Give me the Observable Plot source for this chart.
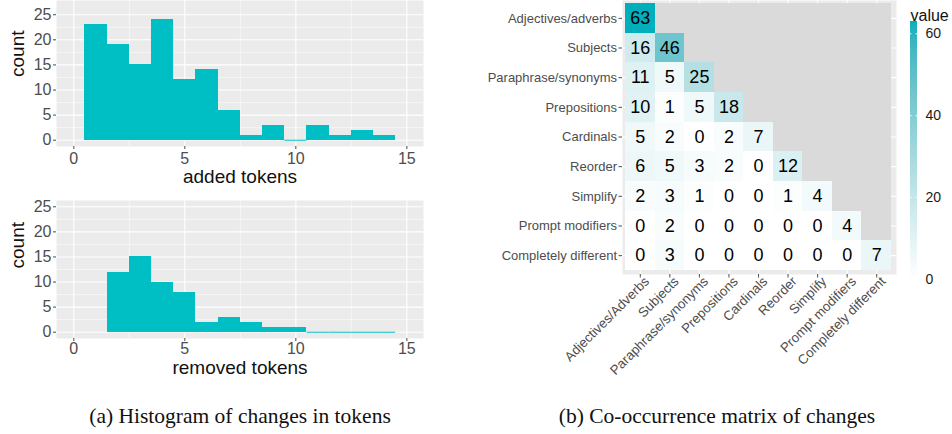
<!DOCTYPE html>
<html>
<head>
<meta charset="utf-8">
<script src="https://cdn.jsdelivr.net/npm/d3@7"></script>
<script src="https://cdn.jsdelivr.net/npm/@observablehq/plot@0.6"></script>
<style>
  body { margin: 0; background: #fff; }
  #root { position: relative; width: 952px; height: 434px; overflow: hidden; font-family: "Liberation Sans", Arial, sans-serif; }
  #root > svg { position: absolute; }
  .cap { position: absolute; font-family: "Liberation Serif", "DejaVu Serif", serif; font-size: 21.5px; color: #111; white-space: nowrap; transform: translateX(-50%); line-height: 1; }
</style>
</head>
<body>
<div id="root"></div>
<script>
// ---------- Data ----------
const addedBins = [1, 2, 3, 4, 5, 6, 7, 8, 9, 10, 11, 12, 13, 14];
const addedCounts = [23, 19, 15, 24, 12, 14, 6, 1, 3, 0, 3, 1, 2, 1];
const removedBins = [2, 3, 4, 5, 6, 7, 8, 9, 10, 11, 12, 13, 14];
const removedCounts = [12, 15, 10, 8, 2, 3, 2, 1, 1, 0, 0, 0, 0];
const histXTicks = [0, 5, 10, 15];
const histYTicks = [0, 5, 10, 15, 20, 25];

const rowLabels = ["Adjectives/adverbs", "Subjects", "Paraphrase/synonyms", "Prepositions", "Cardinals", "Reorder", "Simplify", "Prompt modifiers", "Completely different"];
const colLabels = ["Adjectives/Adverbs", "Subjects", "Paraphrase/synonyms", "Prepositions", "Cardinals", "Reorder", "Simplify", "Prompt modifiers", "Completely different"];
const matrixRows = [
  [63],
  [16, 46],
  [11, 5, 25],
  [10, 1, 5, 18],
  [5, 2, 0, 2, 7],
  [6, 5, 3, 2, 0, 12],
  [2, 3, 1, 0, 0, 1, 4],
  [0, 2, 0, 0, 0, 0, 0, 4],
  [0, 3, 0, 0, 0, 0, 0, 0, 7]
];
const legendTicks = [0, 20, 40, 60];
const captionA = "(a) Histogram of changes in tokens";
const captionB = "(b) Co-occurrence matrix of changes";

const FONT = '"Liberation Sans", Arial, sans-serif';
const TEAL = "#00BFC4";
const root = document.getElementById("root");

function place(el, left, top) {
  el.style.left = left + "px";
  el.style.top = top + "px";
  root.appendChild(el);
}

// ---------- Histograms ----------
function histogram(bins, counts, xlabel, opts) {
  const data = bins.map((b, i) => ({ lo: b - 0.5, hi: b + 0.5, count: counts[i] }));
  const zeros = data.filter(d => d.count === 0);
  return Plot.plot({
    width: 430,
    height: opts.height,
    marginLeft: 56,
    marginRight: 7,
    marginTop: opts.marginTop,
    marginBottom: opts.marginBottom,
    style: { fontFamily: FONT, background: "transparent", overflow: "visible" },
    x: { domain: [-0.78, 15.75] },
    y: { domain: opts.yDomain },
    marks: [
      Plot.frame({ fill: "#EBEBEB", stroke: "none" }),
      Plot.gridX({ ticks: [2.5, 7.5, 12.5], stroke: "white", strokeOpacity: 1, strokeWidth: 0.55 }),
      Plot.gridY({ ticks: [2.5, 7.5, 12.5, 17.5, 22.5], stroke: "white", strokeOpacity: 1, strokeWidth: 0.55 }),
      Plot.gridX({ ticks: histXTicks, stroke: "white", strokeOpacity: 1, strokeWidth: 1.1 }),
      Plot.gridY({ ticks: histYTicks, stroke: "white", strokeOpacity: 1, strokeWidth: 1.1 }),
      Plot.rect(data, { x1: "lo", x2: "hi", y1: () => 0, y2: "count", fill: TEAL, shapeRendering: "crispEdges" }),
      Plot.ruleY(zeros, { y: () => 0, x1: "lo", x2: "hi", stroke: TEAL, strokeWidth: 1 }),
      Plot.axisX({ ticks: histXTicks, tickSize: 3, tickPadding: opts.xTickPadding, fontSize: 16, color: "#4D4D4D", label: null }),
      Plot.axisY({ ticks: histYTicks, tickSize: 3, tickPadding: 2, fontSize: 16, color: "#4D4D4D", label: null }),
      Plot.text([xlabel], { frameAnchor: "bottom", dy: opts.xTitleDy, fontSize: 19, fill: "#111" }),
      Plot.text(["count"], { frameAnchor: "left", dx: -38.5, dy: opts.yTitleDy, rotate: -90, fontSize: 19, fill: "#111" })
    ]
  });
}

place(histogram(addedBins, addedCounts, "added tokens", {
  height: 190, marginTop: 0, marginBottom: 44, yDomain: [-1.25, 27.83], xTitleDy: 36.5, yTitleDy: 3.5, xTickPadding: 3
}), 0, 0);

place(histogram(removedBins, removedCounts, "removed tokens", {
  height: 200, marginTop: 10, marginBottom: 52, yDomain: [-1.25, 26.25], xTitleDy: 35, yTitleDy: -1, xTickPadding: 1.5
}), 0, 190);

// ---------- Co-occurrence heatmap ----------
const cells = [];
const naCells = [];
rowLabels.forEach((r, i) => {
  colLabels.forEach((c, j) => {
    if (j <= i) cells.push({ row: r, col: c, value: matrixRows[i][j] });
    else naCells.push({ row: r, col: c });
  });
});

const colorScale = { type: "linear", domain: [0, 63], range: ["#FFFFFF", "#00AFBB"], interpolate: "lab" };

place(Plot.plot({
  width: 430,
  height: 400,
  marginLeft: 152,
  marginRight: 4,
  marginTop: 0,
  marginBottom: 126,
  style: { fontFamily: FONT, background: "transparent", overflow: "visible" },
  x: { type: "band", domain: colLabels, padding: 0, round: false, insetLeft: 3, insetRight: 5 },
  y: { type: "band", domain: rowLabels, padding: 0, round: false, insetTop: 3, insetBottom: 4 },
  color: colorScale,
  marks: [
    Plot.frame({ fill: "#EBEBEB", stroke: "none" }),
    Plot.gridX({ stroke: "white", strokeOpacity: 1, strokeWidth: 1.1 }),
    Plot.gridY({ stroke: "white", strokeOpacity: 1, strokeWidth: 1.1 }),
    Plot.cell(naCells, { x: "col", y: "row", fill: "#DADADA", inset: 0, shapeRendering: "crispEdges" }),
    Plot.cell(cells, { x: "col", y: "row", fill: "value", inset: 0, shapeRendering: "crispEdges" }),
    Plot.text(cells, { x: "col", y: "row", text: d => String(d.value), fontSize: 18, fill: "#000" }),
    Plot.axisY({ tickSize: 3.5, tickPadding: 2, fontSize: 13, color: "#4D4D4D", label: null }),
    Plot.axisX({ tickSize: 3.5, text: null, color: "#4D4D4D", label: null }),
    Plot.text(colLabels, { x: d => d, frameAnchor: "bottom", rotate: -45, textAnchor: "end", lineAnchor: "top", dx: 3, dy: 1, fontSize: 13.3, fill: "#4D4D4D" })
  ]
}), 470, 0);

// ---------- Colour legend ----------
const strips = d3.range(0, 63, 0.5);
place(Plot.plot({
  width: 52,
  height: 300,
  marginLeft: 10,
  marginRight: 35,
  marginTop: 21,
  marginBottom: 21,
  style: { fontFamily: FONT, background: "transparent", overflow: "visible" },
  x: { domain: [0, 1], axis: null },
  y: { domain: [0, 63], axis: null },
  color: colorScale,
  marks: [
    Plot.rect(strips, { x1: () => 0, x2: () => 1, y1: d => d, y2: d => Math.min(63, d + 0.8), fill: d => d + 0.25 }),
    Plot.ruleY(legendTicks, { x1: () => 0, x2: () => 0.2, stroke: "white", strokeWidth: 1 }),
    Plot.ruleY(legendTicks, { x1: () => 0.8, x2: () => 1, stroke: "white", strokeWidth: 1 }),
    Plot.text(legendTicks, { x: () => 1, y: d => d, dx: 8, textAnchor: "start", fontSize: 14, fill: "#1A1A1A" }),
    Plot.text(["value"], { frameAnchor: "top-left", dy: -12, textAnchor: "start", fontSize: 16, fill: "#111" })
  ]
}), 900, 0);

// ---------- Captions ----------
function caption(text, cx) {
  const d = document.createElement("div");
  d.className = "cap";
  d.textContent = text;
  d.style.left = cx + "px";
  d.style.top = "406px";
  root.appendChild(d);
}
caption(captionA, 240);
caption(captionB, 717);
</script>
</body>
</html>
